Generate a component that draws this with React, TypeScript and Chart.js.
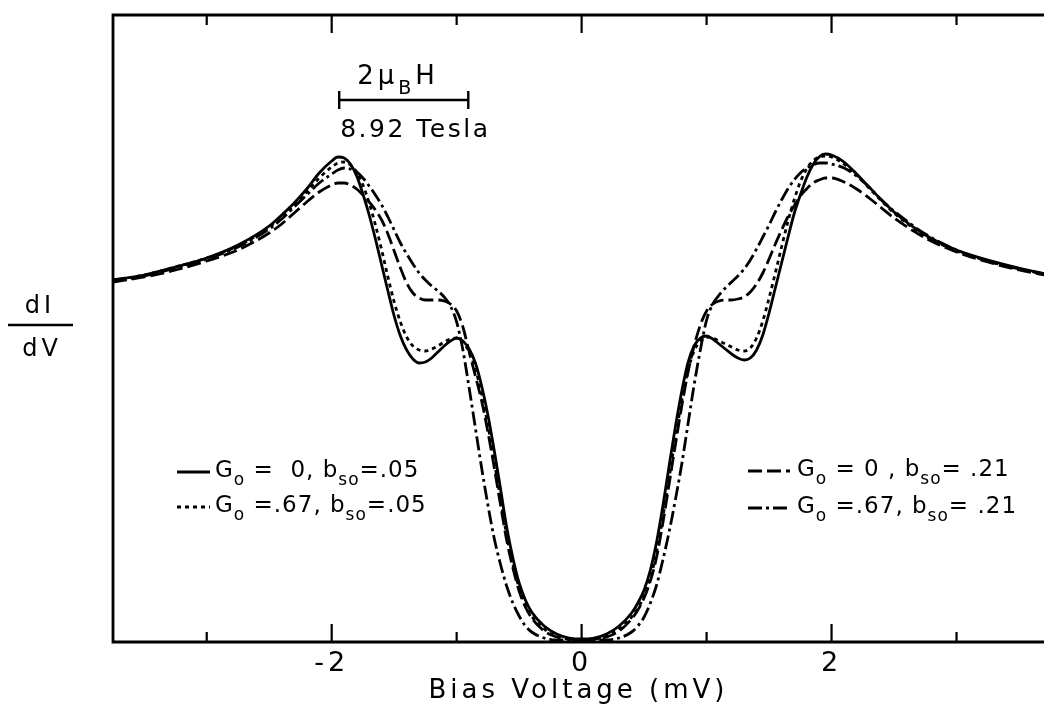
import React, { useEffect, useRef } from 'react';
import { Chart, registerables } from 'chart.js';

Chart.register(...registerables);

const FONT = '"DejaVu Sans", "Liberation Sans", sans-serif';

// Bias voltage grid (mV)
const voltages = [
  -3.75, -3.5, -3.25, -3, -2.75, -2.5, -2.4, -2.3, -2.2, -2.1, -2,
  -1.95, -1.9, -1.85, -1.8, -1.75, -1.7, -1.65, -1.6, -1.55, -1.5,
  -1.45, -1.4, -1.35, -1.3, -1.25, -1.2, -1.15, -1.1, -1.05, -1,
  -0.95, -0.9, -0.85, -0.8, -0.75, -0.7, -0.65, -0.6, -0.55, -0.5,
  -0.45, -0.4, -0.3, -0.2, -0.1, 0,
  0.1, 0.2, 0.3, 0.4, 0.45, 0.5, 0.55, 0.6, 0.65, 0.7, 0.75, 0.8, 0.85,
  0.9, 0.95, 1, 1.05, 1.1, 1.15, 1.2, 1.25, 1.3, 1.35,
  1.4, 1.45, 1.5, 1.55, 1.6, 1.65, 1.7, 1.75, 1.8, 1.85, 1.9, 1.95,
  2, 2.1, 2.2, 2.3, 2.4, 2.5, 2.75, 3, 3.25, 3.5, 3.75,
];

// dI/dV (arbitrary units) — G0 = 0, bso = .05 (solid)
const g0Bso05 = [
  0.724, 0.734, 0.750, 0.768, 0.794, 0.832, 0.854, 0.878, 0.906, 0.938, 0.962,
  0.970, 0.968, 0.956, 0.932, 0.896, 0.854, 0.806, 0.754, 0.702, 0.652,
  0.612, 0.584, 0.566, 0.558, 0.560, 0.568, 0.580, 0.592, 0.602, 0.608,
  0.602, 0.586, 0.558, 0.512, 0.454, 0.384, 0.308, 0.230, 0.168, 0.118,
  0.084, 0.060, 0.032, 0.016, 0.008, 0.006,
  0.008, 0.016, 0.032, 0.058, 0.078, 0.104, 0.144, 0.200, 0.272, 0.352, 0.430, 0.500, 0.558,
  0.592, 0.608, 0.612, 0.606, 0.596, 0.586, 0.576, 0.568, 0.564, 0.568,
  0.584, 0.614, 0.658, 0.708, 0.758, 0.808, 0.856, 0.894, 0.928, 0.954, 0.970, 0.976,
  0.974, 0.960, 0.936, 0.910, 0.884, 0.860, 0.814, 0.784, 0.764, 0.748, 0.734,
];

// G0 = .67, bso = .05 (short dashes)
const g67Bso05 = [
  0.724, 0.734, 0.750, 0.768, 0.792, 0.830, 0.850, 0.874, 0.900, 0.928, 0.950,
  0.958, 0.960, 0.954, 0.940, 0.914, 0.878, 0.834, 0.784, 0.730, 0.680,
  0.640, 0.610, 0.592, 0.584, 0.582, 0.586, 0.592, 0.600, 0.606, 0.608,
  0.600, 0.580, 0.546, 0.496, 0.434, 0.362, 0.288, 0.214, 0.156, 0.108,
  0.076, 0.052, 0.026, 0.012, 0.006, 0.004,
  0.006, 0.012, 0.026, 0.050, 0.068, 0.092, 0.128, 0.180, 0.250, 0.328, 0.408, 0.482, 0.542,
  0.582, 0.602, 0.610, 0.608, 0.602, 0.596, 0.590, 0.584, 0.582, 0.588,
  0.608, 0.642, 0.688, 0.738, 0.790, 0.840, 0.884, 0.920, 0.946, 0.962, 0.970, 0.972,
  0.970, 0.956, 0.934, 0.908, 0.882, 0.858, 0.812, 0.782, 0.762, 0.746, 0.734,
];

// G0 = 0, bso = .21 (long dashes)
const g0Bso21 = [
  0.720, 0.730, 0.744, 0.762, 0.784, 0.818, 0.836, 0.858, 0.880, 0.900, 0.914,
  0.918, 0.918, 0.914, 0.906, 0.894, 0.880, 0.864, 0.844, 0.816, 0.782,
  0.748, 0.718, 0.698, 0.688, 0.684, 0.684, 0.684, 0.682, 0.676, 0.662,
  0.630, 0.580, 0.532, 0.482, 0.420, 0.350, 0.276, 0.204, 0.148, 0.102,
  0.070, 0.048, 0.022, 0.010, 0.006, 0.004,
  0.006, 0.010, 0.022, 0.046, 0.064, 0.088, 0.122, 0.170, 0.238, 0.316, 0.394, 0.470, 0.538,
  0.592, 0.634, 0.662, 0.676, 0.682, 0.684, 0.684, 0.686, 0.690, 0.700,
  0.716, 0.738, 0.766, 0.796, 0.824, 0.850, 0.872, 0.892, 0.906, 0.918, 0.924, 0.928,
  0.928, 0.920, 0.906, 0.888, 0.868, 0.848, 0.808, 0.780, 0.760, 0.744, 0.732,
];

// G0 = .67, bso = .21 (dash-dot)
const g67Bso21 = [
  0.722, 0.732, 0.748, 0.766, 0.790, 0.826, 0.846, 0.870, 0.894, 0.918, 0.936,
  0.944, 0.948, 0.946, 0.940, 0.928, 0.912, 0.894, 0.874, 0.850, 0.824,
  0.798, 0.776, 0.756, 0.738, 0.724, 0.712, 0.702, 0.690, 0.672, 0.640,
  0.584, 0.508, 0.428, 0.348, 0.274, 0.208, 0.156, 0.112, 0.078, 0.052,
  0.032, 0.020, 0.008, 0.004, 0.004, 0.004,
  0.004, 0.004, 0.008, 0.020, 0.032, 0.050, 0.078, 0.114, 0.164, 0.220, 0.284, 0.354, 0.434,
  0.514, 0.584, 0.644, 0.676, 0.694, 0.708, 0.720, 0.732, 0.746, 0.764,
  0.786, 0.810, 0.834, 0.860, 0.884, 0.906, 0.924, 0.938, 0.948, 0.954, 0.958, 0.958,
  0.956, 0.948, 0.932, 0.910, 0.884, 0.862, 0.816, 0.784, 0.762, 0.746, 0.734,
];

const xTickValues = [-3, -2, -1, 0, 1, 2, 3];
const xTickLabels = ['', '-2', '', '0', '', '2', ''];
const xAxisTitle = 'Bias Voltage (mV)';

// Zeeman splitting 2·μB·H at 8.92 T, in mV
const zeemanStart = -1.94;
const zeemanWidth = 1.033;

const seriesList = [
  { data: g0Bso05, dash: [] as number[] },
  { data: g67Bso05, dash: [4, 4] },
  { data: g0Bso21, dash: [14, 5] },
  { data: g67Bso21, dash: [14, 4, 3, 4] },
];

type Part = [string, boolean];
const legendParts: Part[][] = [
  [['G', false], ['o', true], [' =  0, b', false], ['so', true], ['=.05', false]],
  [['G', false], ['o', true], [' =.67, b', false], ['so', true], ['=.05', false]],
  [['G', false], ['o', true], [' = 0 , b', false], ['so', true], ['= .21', false]],
  [['G', false], ['o', true], [' =.67, b', false], ['so', true], ['= .21', false]],
];

function drawRich(ctx: CanvasRenderingContext2D, parts: Part[], x: number, y: number, size: number, subSize: number, subDy: number, spacing: string) {
  let cx = x;
  (ctx as any).letterSpacing = spacing;
  ctx.textAlign = 'left';
  ctx.textBaseline = 'alphabetic';
  for (const [t, sub] of parts) {
    ctx.font = `${sub ? subSize : size}px ${FONT}`;
    ctx.fillText(t, cx, sub ? y + subDy : y);
    cx += ctx.measureText(t).width;
  }
}

const paperPlugin = {
  id: 'paperDecor',
  beforeDraw(chart: any) {
    (chart.ctx as any).letterSpacing = '4px';
  },
  afterDraw(chart: any) {
    const ctx = chart.ctx as CanvasRenderingContext2D;
    const a = chart.chartArea;
    const xs = chart.scales.x;
    ctx.save();
    ctx.fillStyle = '#000';
    ctx.strokeStyle = '#000';
    ctx.setLineDash([]);
    ctx.lineWidth = 2.8;
    ctx.lineCap = 'butt';

    // frame (open on the right)
    ctx.beginPath();
    ctx.moveTo(a.right + 2, a.top);
    ctx.lineTo(a.left, a.top);
    ctx.lineTo(a.left, a.bottom);
    ctx.lineTo(a.right + 2, a.bottom);
    ctx.stroke();

    // inward ticks top & bottom
    ctx.lineWidth = 2.2;
    xTickValues.forEach((v) => {
      const px = xs.getPixelForValue(v);
      const len = v % 2 === 0 ? 18 : 10;
      ctx.beginPath();
      ctx.moveTo(px, a.top);
      ctx.lineTo(px, a.top + len);
      ctx.moveTo(px, a.bottom);
      ctx.lineTo(px, a.bottom - len);
      ctx.stroke();
    });

    // Zeeman scale bar
    const x0 = xs.getPixelForValue(zeemanStart);
    const x1 = xs.getPixelForValue(zeemanStart + zeemanWidth);
    const by = a.top + 85;
    ctx.lineWidth = 2.4;
    ctx.beginPath();
    ctx.moveTo(x0, by); ctx.lineTo(x1, by);
    ctx.moveTo(x0, by - 9); ctx.lineTo(x0, by + 9);
    ctx.moveTo(x1, by - 9); ctx.lineTo(x1, by + 9);
    ctx.stroke();
    drawRich(ctx, [['2', false], ['\u03bc', false], ['B', true], ['H', false]], x0 + 18, by - 16, 26, 19, 10, '4px');
    drawRich(ctx, [['8.92 Tesla', false]], x0 + 1, by + 37, 25, 18, 0, '2.5px');

    // legend
    const legendPos = [
      { lx0: 177, lx1: 210, ly: 472, tx: 215, ty: 477 },
      { lx0: 177, lx1: 210, ly: 507, tx: 215, ty: 512 },
      { lx0: 748, lx1: 790, ly: 471, tx: 797, ty: 476 },
      { lx0: 748, lx1: 790, ly: 508, tx: 797, ty: 513 },
    ];
    legendPos.forEach((p, i) => {
      ctx.lineWidth = 2.8;
      ctx.setLineDash(seriesList[i].dash);
      ctx.beginPath();
      ctx.moveTo(p.lx0, p.ly);
      ctx.lineTo(p.lx1, p.ly);
      ctx.stroke();
      ctx.setLineDash([]);
      drawRich(ctx, legendParts[i], p.tx, p.ty, 23, 17, 8, '1px');
    });

    // y label dI/dV
    (ctx as any).letterSpacing = '4px';
    ctx.font = `24px ${FONT}`;
    ctx.textAlign = 'center';
    ctx.textBaseline = 'alphabetic';
    ctx.fillText('dI', 40, 313);
    ctx.fillText('dV', 42, 356);
    ctx.lineWidth = 2.6;
    ctx.beginPath();
    ctx.moveTo(8, 325);
    ctx.lineTo(73, 325);
    ctx.stroke();

    ctx.restore();
    (ctx as any).letterSpacing = '0px';
  },
};

export default function App() {
  const ref = useRef<HTMLCanvasElement | null>(null);

  useEffect(() => {
    const canvas = ref.current;
    if (!canvas) return;
    const chart = new Chart(canvas, {
      type: 'line',
      data: {
        datasets: seriesList.map((s) => ({
          data: voltages.map((v, i) => ({ x: v, y: s.data[i] })),
          borderColor: '#000',
          borderWidth: 2.8,
          borderDash: s.dash,
          pointRadius: 0,
          fill: false,
          cubicInterpolationMode: 'monotone' as const,
        })),
      },
      options: {
        animation: false,
        responsive: false,
        devicePixelRatio: 1,
        layout: { padding: { left: 113, top: 15, right: 0, bottom: 0 } },
        plugins: { legend: { display: false }, tooltip: { enabled: false } },
        events: [],
        scales: {
          x: {
            type: 'linear',
            min: -3.75,
            max: 3.7,
            afterBuildTicks: (scale: any) => {
              scale.ticks = xTickValues.map((v) => ({ value: v }));
            },
            afterFit: (scale: any) => {
              scale.height = 74;
            },
            grid: { display: false, drawTicks: false },
            border: { display: false },
            ticks: {
              autoSkip: false,
              maxRotation: 0,
              padding: 6,
              color: '#000',
              font: { family: FONT, size: 27 },
              callback: (_v: any, i: number) => xTickLabels[i],
            },
            title: {
              display: true,
              text: xAxisTitle,
              color: '#000',
              font: { family: FONT, size: 26 },
              padding: { top: 0, bottom: 9 },
            },
          },
          y: {
            type: 'linear',
            display: false,
            min: 0,
            max: 1.254,
          },
        },
      },
      plugins: [paperPlugin],
    } as any);
    return () => chart.destroy();
  }, []);

  return (
    <div style={{ position: 'fixed', left: 0, top: 0, width: 1044, height: 716, background: '#fff' }}>
      <canvas ref={ref} width={1044} height={716} style={{ width: 1044, height: 716, display: 'block' }} />
    </div>
  );
}
